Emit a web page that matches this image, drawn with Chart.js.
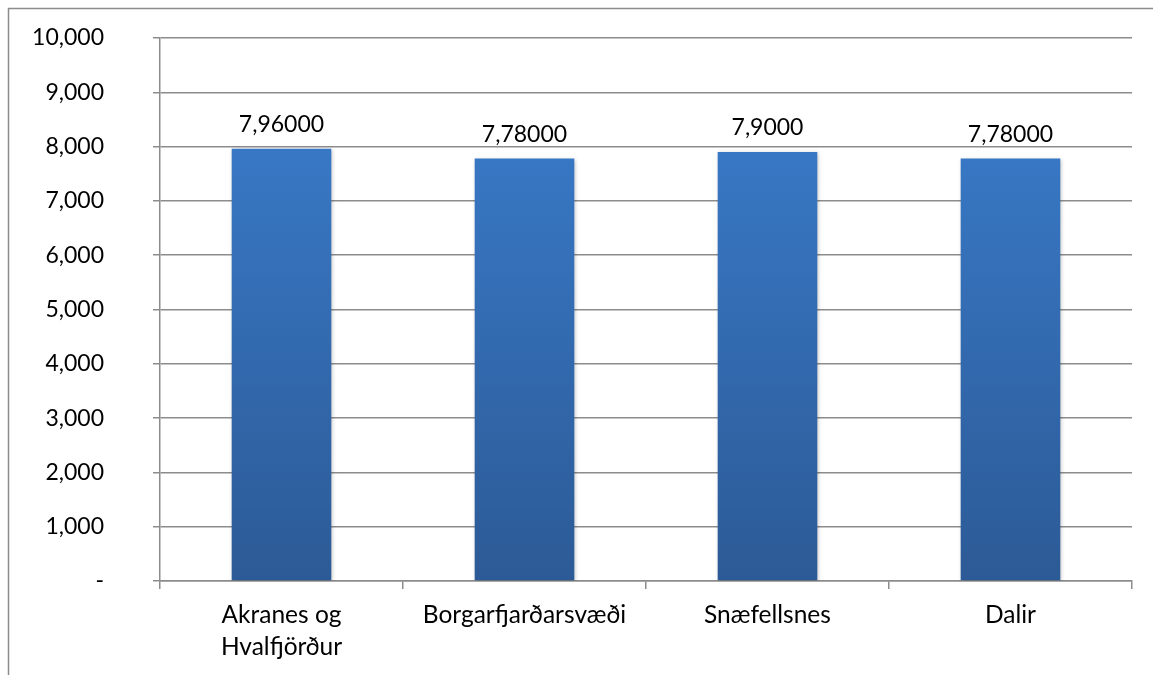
<!DOCTYPE html>
<html>
<head>
<meta charset="utf-8">
<script src="https://cdn.jsdelivr.net/npm/chart.js@4.4.0/dist/chart.umd.min.js"></script>
<style>
html,body{margin:0;padding:0;background:#fff;}
#wrap{position:absolute;left:0;top:0;width:1153px;height:675px;}
</style>
</head>
<body>
<div id="wrap"><canvas id="c" width="1153" height="675"></canvas></div>
<script>
const categories = [["Akranes og","Hvalfjörður"], "Borgarfjarðarsvæði", "Snæfellsnes", "Dalir"];
const values = [7960, 7780, 7900, 7780];
const valueLabels = ["7,96000", "7,78000", "7,9000", "7,78000"];
const yTicks = [0,1000,2000,3000,4000,5000,6000,7000,8000,9000,10000];

const FONT = "Lato, 'Open Sans', sans-serif";
const GRID = "#8c8c8c";
const FS = 23;
const FSX = 24.5;
const AREA_TOP = 38, AREA_BOTTOM = 581;

const framePlugin = {
  id: 'frame',
  beforeDraw(chart){
    const ctx = chart.ctx;
    ctx.save();
    ctx.fillStyle = '#fff';
    ctx.fillRect(0,0,chart.width,chart.height);
    ctx.strokeStyle = GRID;
    ctx.lineWidth = 1.5;
    ctx.beginPath();
    ctx.moveTo(8.5, chart.height);
    ctx.lineTo(8.5, 8.5);
    ctx.lineTo(chart.width, 8.5);
    ctx.stroke();
    ctx.restore();
  }
};

const areaPlugin = {
  id: 'area',
  afterLayout(chart){
    const ca = chart.chartArea, y = chart.scales.y, x = chart.scales.x;
    ca.top = AREA_TOP; ca.bottom = AREA_BOTTOM; ca.height = AREA_BOTTOM - AREA_TOP;
    y.top = AREA_TOP; y.bottom = AREA_BOTTOM; y.height = AREA_BOTTOM - AREA_TOP;
    y.configure(); y._labelItems = null; y._gridLineItems = null;
    const xh = x.height;
    x.top = AREA_BOTTOM; x.bottom = AREA_BOTTOM + xh;
    x.configure(); x._labelItems = null; x._gridLineItems = null;
  }
};

const labelPlugin = {
  id: 'valLabels',
  beforeDatasetsDraw(chart){
    chart.ctx.save();
    chart.ctx.shadowColor = 'rgba(0,0,0,0.25)';
    chart.ctx.shadowBlur = 4;
    chart.ctx.shadowOffsetX = 1;
    chart.ctx.shadowOffsetY = 1;
  },
  afterDatasetsDraw(chart){
    const ctx = chart.ctx;
    ctx.restore();
    const meta = chart.getDatasetMeta(0);
    ctx.save();
    ctx.font = FS + "px " + FONT;
    ctx.fillStyle = '#000';
    ctx.textAlign = 'center';
    ctx.textBaseline = 'middle';
    meta.data.forEach((bar, i) => {
      ctx.fillText(valueLabels[i], bar.x, bar.y - 24);
    });
    ctx.restore();
  }
};

new Chart(document.getElementById('c'), {
  type: 'bar',
  data: {
    labels: categories,
    datasets: [{
      data: values,
      backgroundColor: (ctx) => {
        const ca = ctx.chart.chartArea;
        if (!ca) return '#3570b8';
        const g = ctx.chart.ctx.createLinearGradient(0, AREA_TOP, 0, AREA_BOTTOM);
        g.addColorStop(0, '#3b7fd0');
        g.addColorStop(1, '#2c5a96');
        return g;
      },
      borderWidth: 0,
      categoryPercentage: 1,
      barPercentage: 0.41
    }]
  },
  options: {
    responsive: false,
    animation: false,
    devicePixelRatio: 1,
    layout: { padding: { left: 0, right: 21, top: 18, bottom: 10 } },
    plugins: { legend: { display: false }, tooltip: { enabled: false } },
    scales: {
      x: {
        offset: true,
        grid: { display: true, drawOnChartArea: false, drawTicks: true, tickLength: 8, color: GRID, lineWidth: 1.5, offset: true },
        border: { display: true, color: GRID, width: 1.5 },
        ticks: { color: '#000', font: { family: FONT, size: FSX, lineHeight: 1.31 }, padding: 10, maxRotation: 0, autoSkip: false }
      },
      y: {
        min: 0, max: 10000,
        afterFit(scale){ scale.width = 160; },
        afterBuildTicks(scale){ scale.ticks = yTicks.map(v => ({value: v})); },
        grid: { color: GRID, lineWidth: 1.5, drawTicks: true, tickLength: 7 },
        border: { display: true, color: GRID, width: 1.5 },
        ticks: {
          color: '#000', font: { family: FONT, size: FS }, padding: 49,
          callback: (v) => v === 0 ? '-' : v.toLocaleString('en-US')
        }
      }
    }
  },
  plugins: [framePlugin, areaPlugin, labelPlugin]
});
</script>
</body>
</html>
